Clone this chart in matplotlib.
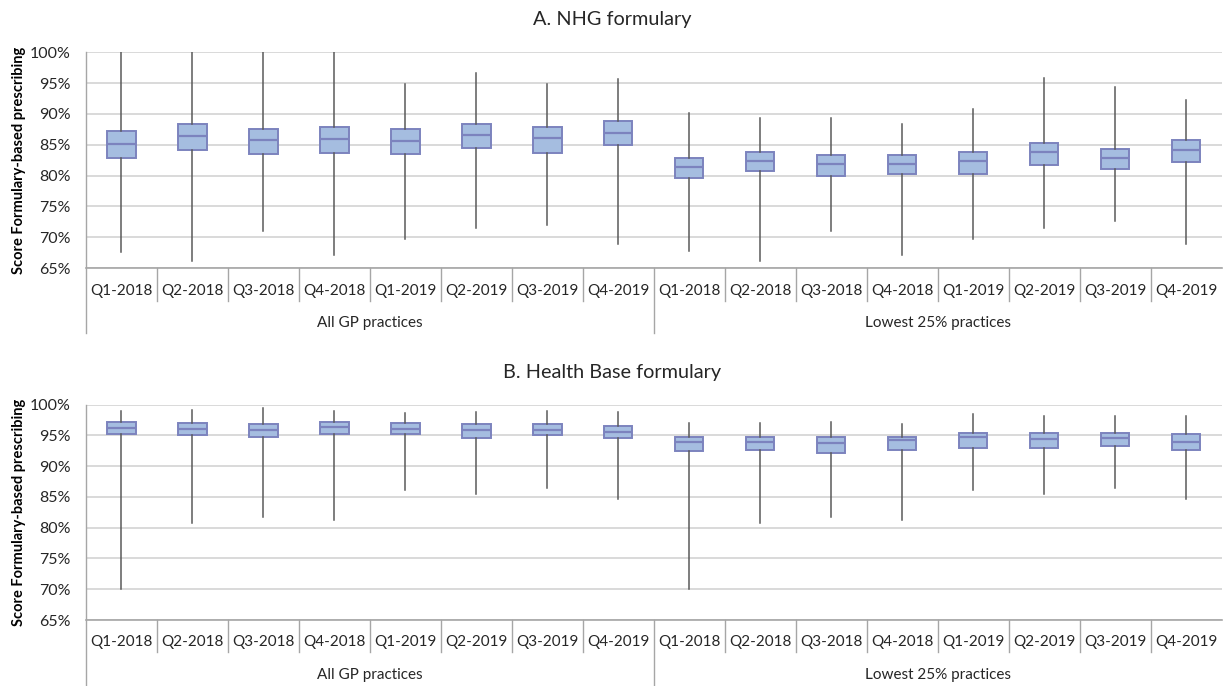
#!/usr/bin/env python3
"""Box plots of formulary-based prescribing scores (NHG and Health Base)."""

import matplotlib
matplotlib.use("Agg")
import matplotlib.pyplot as plt
from matplotlib.ticker import FuncFormatter

plt.rcParams["font.family"] = ["Lato", "DejaVu Sans"]

QUARTERS = ["Q1-2018", "Q2-2018", "Q3-2018", "Q4-2018",
            "Q1-2019", "Q2-2019", "Q3-2019", "Q4-2019"]
GROUPS = ["All GP practices", "Lowest 25% practices"]

# Panel A: NHG formulary (all practices first, then lowest 25%)
nhg_min = [67.7, 66.2, 71.0, 67.1, 69.8, 71.5, 72.0, 69.0,
           67.8, 66.2, 71.0, 67.1, 69.8, 71.5, 72.7, 69.0]
nhg_q1 = [82.9, 84.1, 83.5, 83.7, 83.5, 84.5, 83.7, 85.0,
          79.6, 80.7, 80.0, 80.2, 80.2, 81.8, 81.0, 82.2]
nhg_med = [85.1, 86.4, 85.8, 86.0, 85.6, 86.5, 86.1, 86.9,
           81.4, 82.3, 81.9, 81.9, 82.3, 83.8, 82.8, 84.1]
nhg_q3 = [87.2, 88.3, 87.6, 87.8, 87.6, 88.3, 87.8, 88.9,
          82.9, 83.8, 83.3, 83.4, 83.8, 85.3, 84.3, 85.8]
nhg_max = [100.0, 100.0, 100.0, 100.0, 94.8, 96.6, 94.8, 95.6,
           90.1, 89.4, 89.4, 88.4, 90.8, 95.8, 94.3, 92.3]

# Panel B: Health Base formulary
hb_min = [70.0, 80.8, 81.7, 81.3, 86.2, 85.5, 86.4, 84.6,
          70.0, 80.8, 81.7, 81.3, 86.1, 85.4, 86.4, 84.6]
hb_q1 = [95.2, 95.0, 94.8, 95.3, 95.2, 94.6, 95.0, 94.5,
         92.4, 92.6, 92.1, 92.6, 92.9, 92.9, 93.3, 92.6]
hb_med = [96.2, 96.1, 95.9, 96.4, 96.1, 95.9, 95.9, 95.6,
          94.0, 93.9, 93.7, 94.2, 94.7, 94.4, 94.5, 94.0]
hb_q3 = [97.1, 97.0, 96.8, 97.1, 97.0, 96.8, 96.8, 96.5,
         94.8, 94.7, 94.7, 94.8, 95.4, 95.4, 95.4, 95.2]
hb_max = [99.0, 99.2, 99.5, 99.0, 98.6, 98.8, 99.0, 98.8,
          97.0, 97.0, 97.1, 96.9, 98.4, 98.2, 98.2, 98.2]

BOX_FC = "#a5bde0"
BOX_EC = "#7c83be"
WHISK = "#5a5a5a"
GRID = "#d9d9d9"
AXIS = "#a6a6a6"
TEXT = "#262626"


def draw_panel(ax, lo, q1, med, q3, hi):
    stats = [dict(whislo=a, q1=b, med=c, q3=d, whishi=e, fliers=[])
             for a, b, c, d, e in zip(lo, q1, med, q3, hi)]
    n = len(stats)
    pos = list(range(1, n + 1))
    ax.bxp(stats, positions=pos, widths=0.4, patch_artist=True,
           showcaps=False, showfliers=False,
           boxprops=dict(facecolor=BOX_FC, edgecolor=BOX_EC, linewidth=1.4),
           medianprops=dict(color=BOX_EC, linewidth=1.6),
           whiskerprops=dict(color=WHISK, linewidth=1.1), zorder=3)

    ax.set_xlim(0.5, n + 0.5)
    ax.set_ylim(65, 100)
    ax.set_yticks(range(65, 101, 5))
    ax.yaxis.set_major_formatter(FuncFormatter(lambda v, _: f"{v:.0f}%"))
    ax.grid(axis="y", color=GRID, linewidth=1.4, zorder=0)
    ax.set_axisbelow(True)
    for s in ("top", "right", "left"):
        ax.spines[s].set_visible(False)
    ax.spines["bottom"].set_color(AXIS)
    ax.spines["bottom"].set_linewidth(1.2)
    ax.tick_params(axis="y", length=0, labelsize=11.5, labelcolor=TEXT, pad=11)
    ax.set_xticks(pos)
    ax.set_xticklabels(QUARTERS * 2)
    ax.tick_params(axis="x", length=0, labelsize=11, labelcolor=TEXT, pad=11)

    tr = ax.get_xaxis_transform()
    # category separators
    for k in range(1, n):
        depth = -0.30 if k == n // 2 else -0.15
        ax.plot([k + 0.5, k + 0.5], [0, depth], transform=tr, color=AXIS,
                linewidth=1.0, clip_on=False)
    # left axis line running down through the label rows
    ax.plot([0.5, 0.5], [1, -0.30], transform=tr, color=AXIS,
            linewidth=1.0, clip_on=False)
    for g, name in enumerate(GROUPS):
        ax.text(g * 8 + 4.5, -0.255, name, transform=tr, ha="center",
                va="center", fontsize=11, color=TEXT)

    ax.set_ylabel("Score Formulary-based prescribing", fontsize=10.5,
                  fontweight="bold", color="black", labelpad=3)


def main():
    fig = plt.figure(figsize=(12.25, 6.86), dpi=100)
    ax_a = fig.add_axes([0.0702, 0.609, 0.927, 0.315])
    ax_b = fig.add_axes([0.0702, 0.0962, 0.927, 0.314])

    draw_panel(ax_a, nhg_min, nhg_q1, nhg_med, nhg_q3, nhg_max)
    draw_panel(ax_b, hb_min, hb_q1, hb_med, hb_q3, hb_max)

    fig.text(0.5, 0.972, "A. NHG formulary", ha="center", va="center",
             fontsize=14.3, color=TEXT)
    fig.text(0.5, 0.457, "B. Health Base formulary", ha="center",
             va="center", fontsize=14.3, color=TEXT)

    fig.savefig("out.png", dpi=100)
    plt.close(fig)


if __name__ == "__main__":
    main()
